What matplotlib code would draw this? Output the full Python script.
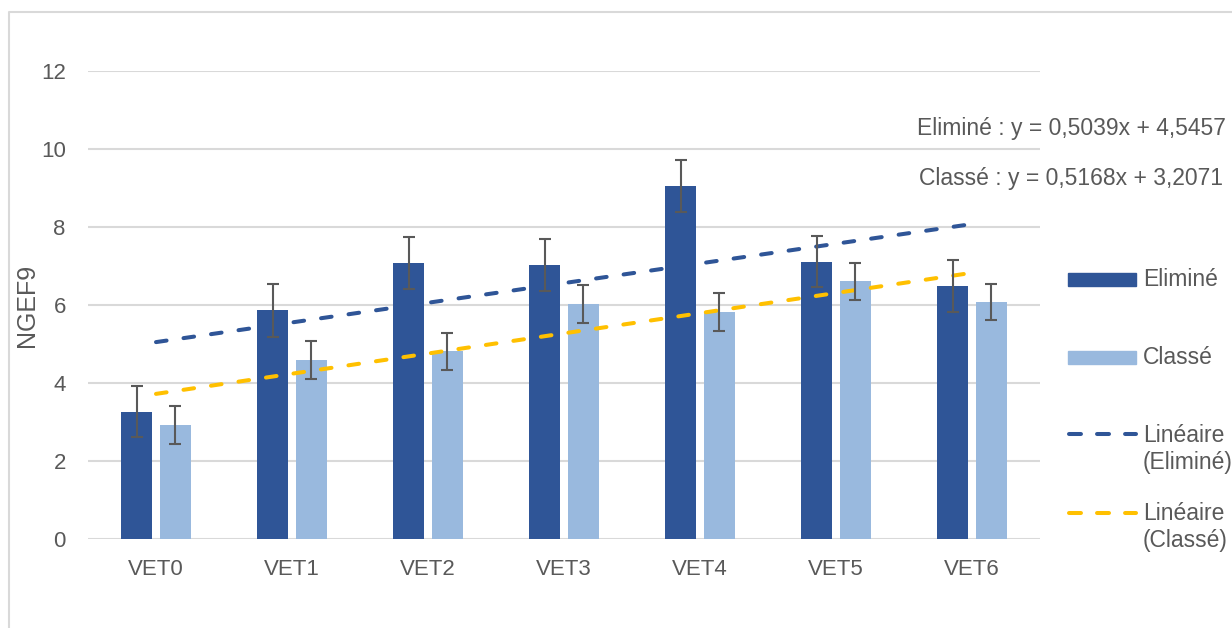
import numpy as np
import matplotlib
matplotlib.use('Agg')
import matplotlib.pyplot as plt
import matplotlib.patches as mpatches
from matplotlib.lines import Line2D

plt.rcParams['font.family'] = ['Liberation Sans', 'DejaVu Sans']

# Data
categories = ['VET0', 'VET1', 'VET2', 'VET3', 'VET4', 'VET5', 'VET6']
elimine = [3.27, 5.86, 7.08, 7.02, 9.04, 7.11, 6.49]
elimine_err = [0.66, 0.67, 0.67, 0.66, 0.67, 0.66, 0.66]
classe = [2.93, 4.59, 4.81, 6.03, 5.82, 6.61, 6.08]
classe_err = [0.48, 0.48, 0.48, 0.48, 0.48, 0.47, 0.47]

# Trendline coefficients (slope, intercept) as shown on the chart
trend_elimine = (0.5039, 4.5457)
trend_classe = (0.5168, 3.2071)

dark_blue = '#2F5597'
light_blue = '#99B9DE'
gold = '#FFC000'
text_color = '#595959'
grid_color = '#D9D9D9'

fig = plt.figure(figsize=(12.32, 6.28), dpi=100)
ax = fig.add_axes([88 / 1232, 1 - 539.3 / 628, 952 / 1232, 468.6 / 628])

x = np.arange(len(categories))
width = 0.225
offset = 0.143

ax.bar(x - offset, elimine, width, color=dark_blue, zorder=2)
ax.bar(x + offset, classe, width, color=light_blue, zorder=2)

ax.errorbar(x - offset, elimine, yerr=elimine_err, fmt='none', ecolor=text_color,
            elinewidth=1.5, capsize=4.3, capthick=1.5, zorder=4)
ax.errorbar(x + offset, classe, yerr=classe_err, fmt='none', ecolor=text_color,
            elinewidth=1.5, capsize=4.3, capthick=1.5, zorder=4)

# Linear trendlines (x = 1..n as in Excel)
xt = x + 1
dash = (2.65, 4.25)
ax.plot(x, trend_elimine[0] * xt + trend_elimine[1], color=dark_blue, lw=2.9,
        dashes=dash, dash_capstyle='round', zorder=3)
ax.plot(x, trend_classe[0] * xt + trend_classe[1], color=gold, lw=2.9,
        dashes=dash, dash_capstyle='round', zorder=3)

ax.set_xlim(-0.5, len(categories) - 0.5)
ax.set_ylim(0, 12)
ax.set_yticks(np.arange(0, 13, 2))
ax.set_xticks(x)
ax.set_xticklabels(categories)
ax.yaxis.grid(True, color=grid_color, lw=1.5)
ax.set_axisbelow(True)
for s in ax.spines.values():
    s.set_visible(False)
ax.tick_params(axis='both', length=0, labelsize=16, labelcolor=text_color)
ax.tick_params(axis='y', pad=16)
ax.tick_params(axis='x', pad=14)

ax.set_ylabel('NGEF9', fontsize=18, color=text_color)
ax.yaxis.set_label_coords(-0.051, 0.5)

# Trendline equations
fig.text(1226 / 1232, 1 - 128 / 628, 'Eliminé : y = 0,5039x + 4,5457', ha='right',
         va='center', fontsize=16.5, color=text_color)
fig.text(1223 / 1232, 1 - 178 / 628, 'Classé : y = 0,5168x + 3,2071', ha='right',
         va='center', fontsize=16.5, color=text_color)

# Manual legend
def fx(px):
    return px / 1232

def fy(py):
    return 1 - py / 628

fig.patches.append(mpatches.Rectangle((fx(1068), fy(286)), fx(68), 13 / 628,
                                      transform=fig.transFigure, color=dark_blue))
fig.patches.append(mpatches.Rectangle((fx(1068), fy(364)), fx(68), 13 / 628,
                                      transform=fig.transFigure, color=light_blue))
fig.lines.append(Line2D([fx(1069), fx(1136)], [fy(434), fy(434)], transform=fig.transFigure,
                        color=dark_blue, lw=2.9, dashes=(2.97, 3.99), dash_capstyle='round'))
fig.lines.append(Line2D([fx(1069), fx(1136)], [fy(513), fy(513)], transform=fig.transFigure,
                        color=gold, lw=2.9, dashes=(2.97, 3.99), dash_capstyle='round'))
fig.text(fx(1143), fy(280), 'Eliminé', ha='left', va='center', fontsize=16.5, color=text_color)
fig.text(fx(1143), fy(358), 'Classé', ha='left', va='center', fontsize=16.5, color=text_color)
fig.text(fx(1143), fy(449), 'Linéaire\n(Eliminé)', ha='left', va='center', fontsize=16.5,
         color=text_color, linespacing=1.2)
fig.text(fx(1143), fy(527), 'Linéaire\n(Classé)', ha='left', va='center', fontsize=16.5,
         color=text_color, linespacing=1.2)

# Chart frame (only top and left edges visible in the reference)
fig.lines.append(Line2D([fx(9), fx(9), fx(1232)], [0, fy(12), fy(12)],
                        transform=fig.transFigure, color=grid_color, lw=1.5))

fig.savefig('out.png', dpi=100)
